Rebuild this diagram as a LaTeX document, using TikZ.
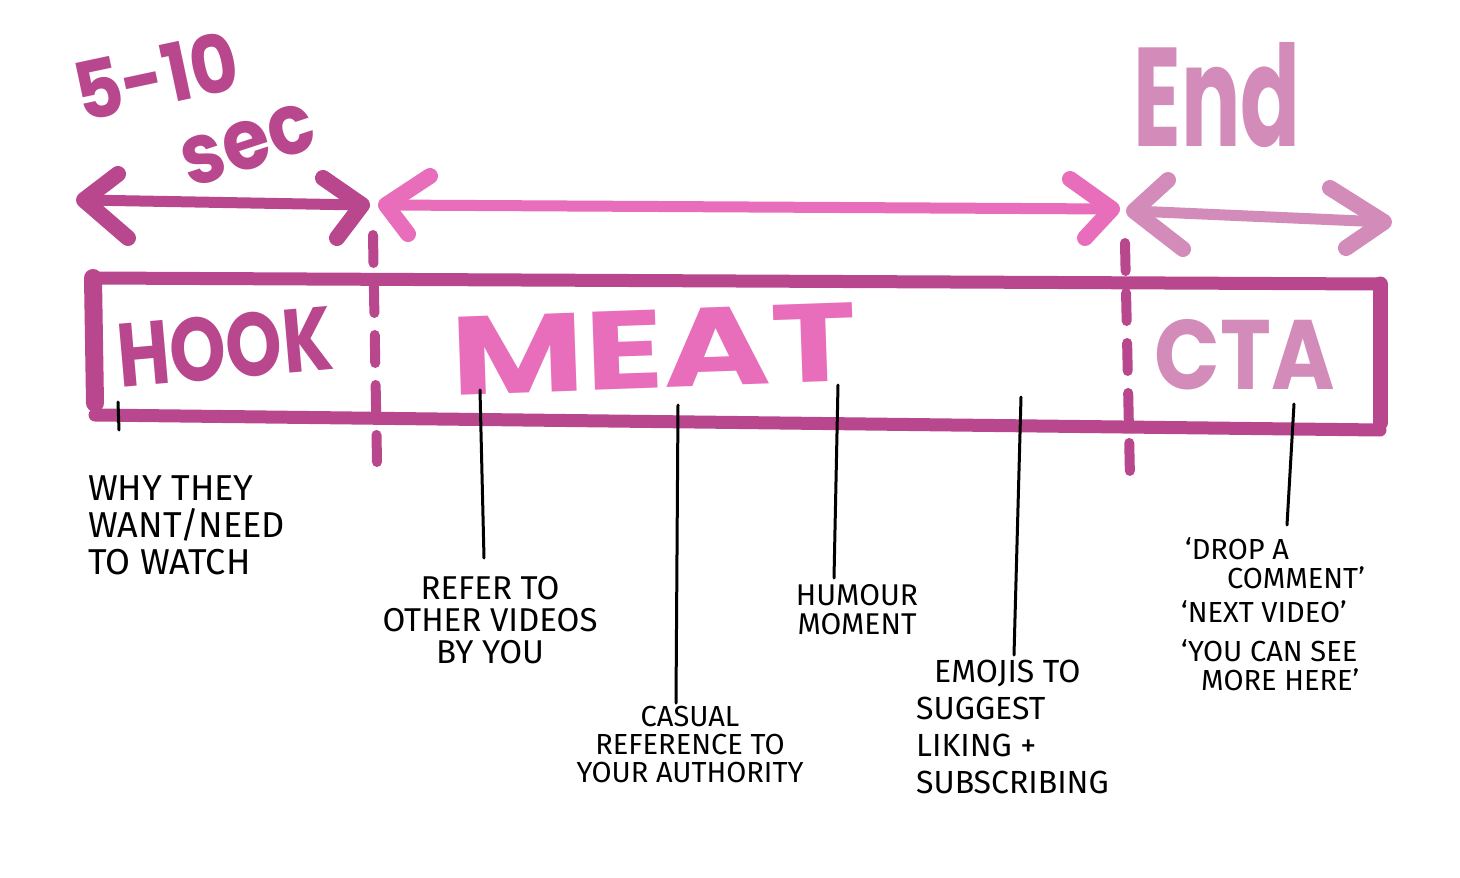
\documentclass[tikz,border=0pt]{standalone}
\usepackage{fontspec}
\setmainfont{Fira Sans}
\newfontfamily\bigfont{Poppins}
\definecolor{dpink}{HTML}{B9478E}
\definecolor{bpink}{HTML}{E86DBB}
\definecolor{lpink}{HTML}{D38BBA}
\begin{document}
\begin{tikzpicture}[x=1pt,y=-1pt,
  shaft/.style={line width=11pt,line cap=round},
  ahead/.style={line width=16pt,line cap=round,line join=round},
  boxline/.style={dpink,line width=13pt,line cap=round},
  divider/.style={dpink,line width=10pt,line cap=round,dash pattern=on 28pt off 22pt},
  leader/.style={black,line width=3pt,line cap=round},
  big/.style={inner sep=0pt},
  lbl/.style={inner sep=0pt,text=black}]
\useasboundingbox (0,0) rectangle (1460,878);
\fill[white] (0,0) rectangle (1460,878);

% big headings
\node[big,rotate=12,text=dpink] (t510) at (156,76) {\resizebox{166pt}{60pt}{\bigfont\bfseries 5-10}};
\node[big,rotate=18,text=dpink] (tsec) at (248,145) {\resizebox{136pt}{48pt}{\bigfont\bfseries sec}};
\node[big,text=lpink] (tend) at (1217,95) {\resizebox{167pt}{104pt}{\bigfont\bfseries End}};

% arrows
\coordinate (a1l) at (84,200); \coordinate (a1r) at (362,205);
\draw[shaft,dpink] (a1l) -- (a1r);
\draw[ahead,dpink] (118,174) -- (a1l) -- (128,238);
\draw[ahead,dpink] (323,178) -- (a1r) -- (337,238);

\coordinate (a2l) at (386,205); \coordinate (a2r) at (1112,209);
\draw[shaft,bpink] (a2l) -- (a2r);
\draw[ahead,bpink] (430,176) -- (a2l) -- (408,234);
\draw[ahead,bpink] (1070,179) -- (a2r) -- (1085,238);

\coordinate (a3l) at (1134,211); \coordinate (a3r) at (1384,222);
\draw[shaft,lpink] (a3l) -- (a3r);
\draw[ahead,lpink] (1168,180) -- (a3l) -- (1183,249);
\draw[ahead,lpink] (1330,188) -- (a3r) -- (1346,248);

% timeline box
\coordinate (bTL) at (93,278); \coordinate (bTR) at (1380,284);
\coordinate (bBL) at (95,415); \coordinate (bBR) at (1380,430);
\draw[boxline] (bTL) -- (bTR);
\draw[boxline] (bBL) -- (bBR);
\draw[boxline,line width=18pt] (bTL) -- ([yshift=12]bBL);
\draw[boxline,line width=15pt] (bTR) -- ([yshift=7]bBR);

% dividers
\coordinate (d1t) at (373,235); \coordinate (d1b) at (377,462);
\coordinate (d2t) at (1125,243); \coordinate (d2b) at (1130,478);
\draw[divider] (d1t) -- (d1b);
\draw[divider] (d2t) -- (d2b);

% section titles
\node[big,rotate=5,text=dpink] (hook) at (225,347) {\resizebox{215pt}{64pt}{\bigfont\bfseries HOOK}};
\node[big,rotate=2,text=bpink] (meat) at (654,349) {\resizebox{405pt}{78pt}{\bigfont\bfseries MEAT}};
\node[big,text=lpink] (cta) at (1245,355) {\resizebox{180pt}{70pt}{\bigfont\bfseries CTA}};

% labels
\node[lbl,anchor=north west,align=left,font=\fontsize{36}{37}\selectfont] (l1) at (88,475) {WHY THEY\\WANT/NEED\\TO WATCH};
\node[lbl,anchor=north,align=center,font=\fontsize{33}{32}\selectfont] (l2) at (490,576) {REFER TO\\OTHER VIDEOS\\BY YOU};
\node[lbl,anchor=north,align=center,font=\fontsize{29}{28}\selectfont] (l3) at (690,706) {CASUAL\\REFERENCE TO\\YOUR AUTHORITY};
\node[lbl,anchor=north,align=center,font=\fontsize{30}{29}\selectfont] (l4) at (857,584) {HUMOUR\\MOMENT};
\node[lbl,anchor=north west,align=left,font=\fontsize{32}{37}\selectfont] (l5) at (916,660) {\hspace*{18pt}EMOJIS TO\\SUGGEST\\LIKING +\\SUBSCRIBING};
\node[lbl,anchor=north west,align=left,font=\fontsize{29}{29}\selectfont] (l6) at (1181,537) {\hspace*{4pt}‘DROP A\\\hspace*{46pt}COMMENT’\\[5pt]‘NEXT VIDEO’\\[10pt]‘YOU CAN SEE\\\hspace*{20pt}MORE HERE’};

% leaders
\coordinate (k1) at (118,402); \coordinate (e1) at (119,430);
\coordinate (k2) at (480,390); \coordinate (e2) at (484,558);
\coordinate (k3) at (678,405); \coordinate (e3) at (676,703);
\coordinate (k4) at (838,385); \coordinate (e4) at (834,578);
\coordinate (k5) at (1021,397); \coordinate (e5) at (1014,655);
\coordinate (k6) at (1294,404); \coordinate (e6) at (1287,525);
\draw[leader] (k1) -- (e1);
\draw[leader] (k2) -- (e2);
\draw[leader] (k3) -- (e3);
\draw[leader] (k4) -- (e4);
\draw[leader] (k5) -- (e5);
\draw[leader] (k6) -- (e6);
\end{tikzpicture}
\end{document}
